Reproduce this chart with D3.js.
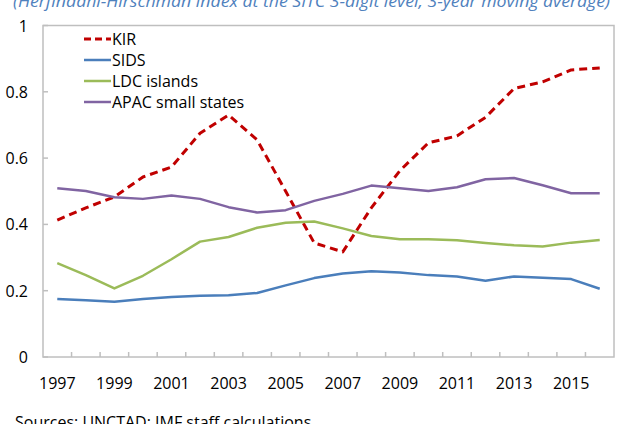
<!DOCTYPE html>
<html>
<head>
<meta charset="utf-8">
<script src="https://cdn.jsdelivr.net/npm/d3@7"></script>
<style>
  body { margin: 0; background: #fff; }
  text { font-family: "Open Sans", "Noto Sans", sans-serif; }
</style>
</head>
<body>
<script>
// Years and series (HHI, 3-year moving average)
var years = d3.range(1997, 2017);
var kir = [0.413, 0.45, 0.483, 0.543, 0.573, 0.675, 0.73, 0.655, 0.5, 0.344,
           0.317, 0.45, 0.562, 0.646, 0.667, 0.723, 0.81, 0.83, 0.866, 0.872];
var sids = [0.175, 0.171, 0.167, 0.175, 0.181, 0.185, 0.186, 0.193, 0.216, 0.238,
            0.252, 0.259, 0.255, 0.247, 0.243, 0.23, 0.243, 0.239, 0.235, 0.206];
var ldc = [0.283, 0.247, 0.207, 0.245, 0.295, 0.348, 0.362, 0.39, 0.405, 0.409,
           0.388, 0.365, 0.355, 0.355, 0.352, 0.344, 0.337, 0.333, 0.345, 0.353];
var apac = [0.509, 0.501, 0.482, 0.477, 0.487, 0.477, 0.452, 0.436, 0.443, 0.471,
            0.492, 0.517, 0.509, 0.501, 0.512, 0.536, 0.54, 0.518, 0.494, 0.494];
var yTicks = [0, 0.2, 0.4, 0.6, 0.8, 1];
var xLabels = [1997, 1999, 2001, 2003, 2005, 2007, 2009, 2011, 2013, 2015];

var series = [
  {name: "KIR", values: kir, color: "#C00000", dash: "8,5", width: 3},
  {name: "SIDS", values: sids, color: "#4A7EBB", dash: null, width: 2.5},
  {name: "LDC islands", values: ldc, color: "#9BBB59", dash: null, width: 2.5},
  {name: "APAC small states", values: apac, color: "#8064A2", dash: null, width: 2.5}
];

var svgWidth = 634;
var svgHeight = 424;
var chartMargin = {top: 25.5, right: 20, bottom: 67, left: 43};
var chartWidth = svgWidth - chartMargin.left - chartMargin.right;
var chartHeight = svgHeight - chartMargin.top - chartMargin.bottom;

var svg = d3.select("body")
  .append("svg")
  .attr("width", svgWidth)
  .attr("height", svgHeight);

// Subtitle, clipped at top like the source image
svg.append("text")
  .attr("x", 13)
  .attr("y", 7)
  .attr("font-size", 16)
  .attr("font-style", "italic")
  .attr("fill", "#4F81BD")
  .attr("textLength", 597)
  .attr("lengthAdjust", "spacingAndGlyphs")
  .text("(Herfindahl-Hirschman index at the SITC 3-digit level, 3-year moving average)");

var chartGroup = svg.append("g")
  .attr("transform", `translate(${chartMargin.left}, ${chartMargin.top})`);

var xBandScale = d3.scaleBand()
  .domain(years)
  .range([0, chartWidth]);

var yLinearScale = d3.scaleLinear()
  .domain([0, 1])
  .range([chartHeight, 0]);

var xc = d => xBandScale(d) + xBandScale.bandwidth() / 2;

// plot box
chartGroup.append("rect")
  .attr("x", 0)
  .attr("y", 0)
  .attr("width", chartWidth)
  .attr("height", chartHeight)
  .attr("fill", "none")
  .attr("stroke", "#BFBFBF")
  .attr("stroke-width", 1.5);

// y ticks (inside) and labels
chartGroup.selectAll(".ytick")
  .data(yTicks)
  .enter()
  .append("line")
  .attr("x1", 0)
  .attr("x2", 5)
  .attr("y1", d => yLinearScale(d))
  .attr("y2", d => yLinearScale(d))
  .attr("stroke", "#BFBFBF")
  .attr("stroke-width", 1.5);

chartGroup.selectAll(".ylab")
  .data(yTicks)
  .enter()
  .append("text")
  .attr("x", -15)
  .attr("y", d => yLinearScale(d) + 6)
  .attr("text-anchor", "end")
  .attr("font-size", 16)
  .attr("fill", "#000")
  .text(d => d3.format("")(d));

// x ticks at band boundaries
var xTickPos = years.slice(1).map(d => xBandScale(d));
chartGroup.selectAll(".xtick")
  .data(xTickPos)
  .enter()
  .append("line")
  .attr("x1", d => d)
  .attr("x2", d => d)
  .attr("y1", chartHeight)
  .attr("y2", chartHeight - 5)
  .attr("stroke", "#BFBFBF")
  .attr("stroke-width", 1.5);

chartGroup.selectAll(".xlab")
  .data(xLabels)
  .enter()
  .append("text")
  .attr("x", d => xc(d))
  .attr("y", chartHeight + 32)
  .attr("text-anchor", "middle")
  .attr("font-size", 16)
  .attr("fill", "#000")
  .text(d => d);

// lines
var line = d3.line()
  .x((d, i) => xc(years[i]))
  .y(d => yLinearScale(d));

chartGroup.selectAll(".series")
  .data(series)
  .enter()
  .append("path")
  .attr("d", d => line(d.values))
  .attr("fill", "none")
  .attr("stroke", d => d.color)
  .attr("stroke-width", d => d.width)
  .attr("stroke-dasharray", d => d.dash)
  .attr("stroke-linejoin", "round");

// legend
var legend = svg.append("g")
  .attr("transform", "translate(84, 39)");

var legendRow = legend.selectAll(".lg")
  .data(series)
  .enter()
  .append("g")
  .attr("transform", (d, i) => `translate(0, ${i * 21})`);

legendRow.append("line")
  .attr("x1", 0)
  .attr("x2", 27)
  .attr("y1", 0)
  .attr("y2", 0)
  .attr("stroke", d => d.color)
  .attr("stroke-width", d => d.width)
  .attr("stroke-dasharray", d => d.dash ? "7,4" : null);

legendRow.append("text")
  .attr("x", 28)
  .attr("y", 6)
  .attr("font-size", 16)
  .attr("fill", "#000")
  .text(d => d.name);

// source note
svg.append("text")
  .attr("x", 15)
  .attr("y", 428)
  .attr("font-size", 16)
  .attr("fill", "#000")
  .text("Sources: UNCTAD; IMF staff calculations");
</script>
</body>
</html>
